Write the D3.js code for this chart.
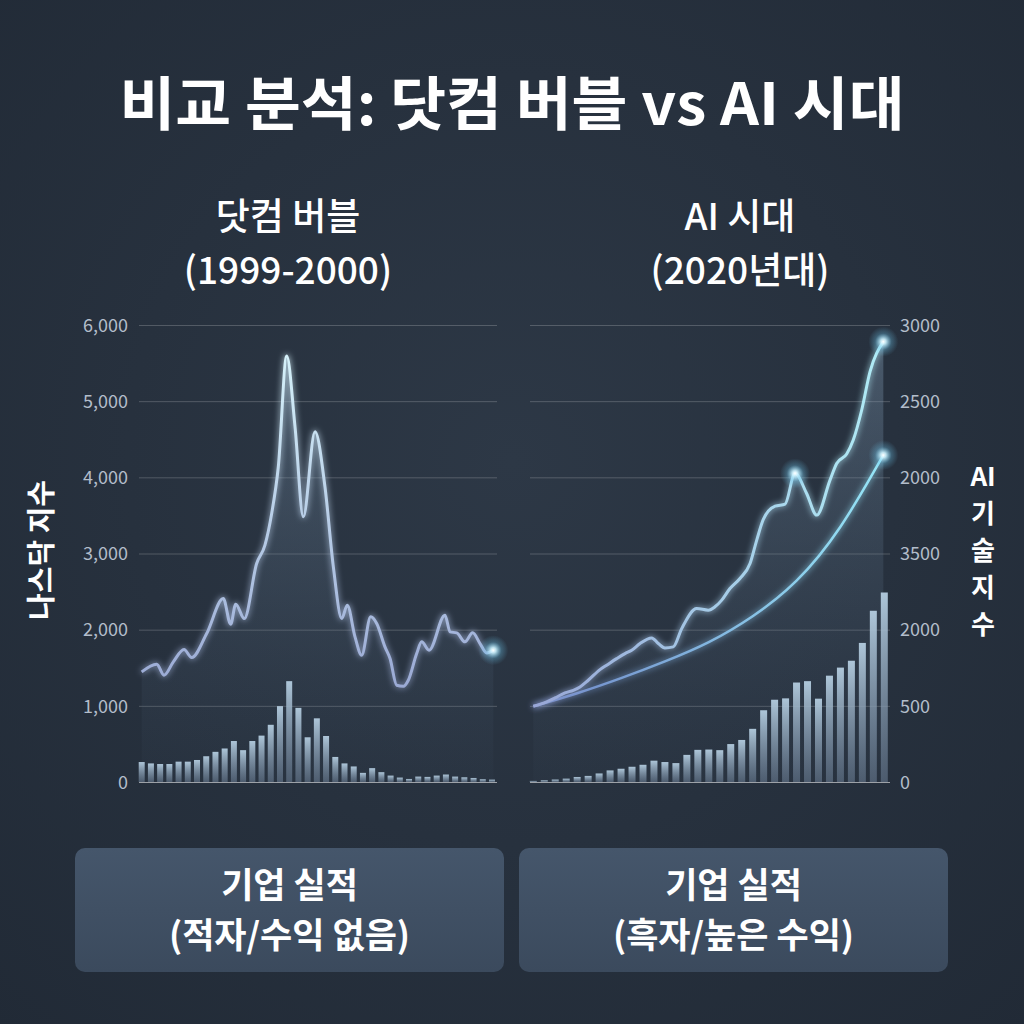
<!DOCTYPE html>
<html>
<head>
<meta charset="utf-8">
<script src="https://cdn.jsdelivr.net/npm/d3@7"></script>
<style>
  html, body { margin: 0; padding: 0; background: #27313e; }
  svg { display: block; }
  text { font-family: "Noto Sans CJK KR", "Noto Sans", sans-serif; }
</style>
</head>
<body>
<div id="chart_div"></div>
<script>
// ---- data ----

// dot-com: NASDAQ index line, t = position on the bar index scale
const dotcomLineT = [0, 1.63, 2.42, 3.43, 4.59, 5.42, 7.05, 8.85, 9.65, 10.2, 11.13, 12.47, 13.37, 14.1, 14.82, 15.73,
    16.63, 17.53, 18.8, 19.88, 20.79, 21.7, 22.3, 23.14, 23.86, 24.84, 25.49, 26.39, 26.94, 27.66, 28.38, 28.92,
    29.83, 30.37, 31.17, 32.9, 33.45, 34.17, 35.07, 35.9, 36.7, 37.42, 38.14];
const dotcomLineV = [1445, 1546, 1402, 1577, 1739, 1634, 1949, 2409, 2072, 2335, 2146, 2869, 3110, 3526, 4139, 5593,
    4665, 3482, 4599, 3876, 2825, 2146, 2321, 1905, 1664, 2168, 2081, 1774, 1621, 1270, 1257, 1336,
    1686, 1840, 1730, 2190, 1971, 1958, 1840, 1958, 1818, 1695, 1730];
// dot-com: bars
const dotcomBars = [262, 244, 236, 236, 267, 267, 289, 338, 396, 440, 538, 418, 538, 609, 751, 996, 1324, 973, 587, 836,
    604, 329, 244, 204, 120, 182, 129, 84, 58, 40, 71, 67, 84, 98, 71, 62, 53, 36, 31];
const dotcomTicks = [0, 1000, 2000, 3000, 4000, 5000, 6000];

// AI era: index line
const aiLineT = [0, 1.22, 1.98, 2.89, 3.65, 4.26, 5.01, 6.08, 6.69, 7.6, 8.36, 8.97, 9.73, 10.79, 11.4, 12.0, 12.76,
    13.53, 14.9, 15.95, 16.56, 17.18, 17.93, 18.84, 19.76, 20.37, 20.97, 22.04, 22.95, 23.86, 24.92, 25.84,
    27.05, 27.66, 28.57, 29.17, 29.94, 30.7, 31.91];
const aiLineV = [497, 526, 552, 585, 602, 624, 668, 738, 767, 810, 843, 865, 909, 946, 909, 880, 887,
    1007, 1139, 1128, 1150, 1194, 1270, 1336, 1434, 1588, 1724, 1811, 1824, 2026, 1894, 1752,
    1982, 2091, 2153, 2245, 2442, 2694, 2891];
// AI era: smooth trend curve
const aiTrendT = [0, 4, 8, 12, 16, 20, 24, 28, 31.91];
const aiTrendV = [497, 580, 680, 790, 910, 1080, 1300, 1650, 2146];
// AI era: bars
const aiBars = [7, 11, 16, 22, 33, 40, 56, 76, 87, 100, 113, 140, 131, 124, 178, 211, 213, 209, 249, 276, 349, 471,
    540, 549, 653, 662, 547, 698, 751, 796, 913, 1124, 1244];
const aiTicks = [0, 500, 1000, 1500, 2000, 2500, 3000];
const aiTickLabels = ["0", "500", "2000", "3500", "2000", "2500", "3000"];

const width = 1024;
const height = 1024;

const svg = d3.select("#chart_div")
    .append("svg")
    .attr("width", width)
    .attr("height", height);

// ---- defs ----
const defs = svg.append("defs");

const bg = defs.append("radialGradient").attr("id", "bg").attr("cx", "50%").attr("cy", "45%").attr("r", "75%");
bg.append("stop").attr("offset", "0%").attr("stop-color", "#2d3846");
bg.append("stop").attr("offset", "100%").attr("stop-color", "#212a36");

const barGrad = defs.append("linearGradient").attr("id", "barGrad").attr("x1", 0).attr("y1", 0).attr("x2", 0).attr("y2", 1);
barGrad.append("stop").attr("offset", "0%").attr("stop-color", "#b4cde0").attr("stop-opacity", 0.95);
barGrad.append("stop").attr("offset", "100%").attr("stop-color", "#6c7f96").attr("stop-opacity", 0.55);

const areaGrad = defs.append("linearGradient").attr("id", "areaGrad").attr("x1", 0).attr("y1", 0).attr("x2", 0).attr("y2", 1);
areaGrad.append("stop").attr("offset", "0%").attr("stop-color", "#8aa6c0").attr("stop-opacity", 0.35);
areaGrad.append("stop").attr("offset", "100%").attr("stop-color", "#4a5d73").attr("stop-opacity", 0.05);

const leftLineGrad = defs.append("linearGradient").attr("id", "leftLineGrad")
    .attr("gradientUnits", "userSpaceOnUse").attr("x1", 0).attr("y1", 350).attr("x2", 0).attr("y2", 690);
leftLineGrad.append("stop").attr("offset", "0%").attr("stop-color", "#d6f2fa");
leftLineGrad.append("stop").attr("offset", "100%").attr("stop-color", "#9aa9d4");

const aiLineGrad = defs.append("linearGradient").attr("id", "aiLineGrad")
    .attr("gradientUnits", "userSpaceOnUse").attr("x1", 530).attr("y1", 0).attr("x2", 885).attr("y2", 0);
aiLineGrad.append("stop").attr("offset", "0%").attr("stop-color", "#99a6d6");
aiLineGrad.append("stop").attr("offset", "100%").attr("stop-color", "#b0ecf6");

const trendGrad = defs.append("linearGradient").attr("id", "trendGrad")
    .attr("gradientUnits", "userSpaceOnUse").attr("x1", 530).attr("y1", 0).attr("x2", 885).attr("y2", 0);
trendGrad.append("stop").attr("offset", "0%").attr("stop-color", "#6f84c6");
trendGrad.append("stop").attr("offset", "100%").attr("stop-color", "#96e6f7");

const boxGrad = defs.append("linearGradient").attr("id", "boxGrad").attr("x1", 0).attr("y1", 0).attr("x2", 0).attr("y2", 1);
boxGrad.append("stop").attr("offset", "0%").attr("stop-color", "#45566b");
boxGrad.append("stop").attr("offset", "100%").attr("stop-color", "#3b4a5d");

const glow = defs.append("filter").attr("id", "glow").attr("x", "-20%").attr("y", "-20%").attr("width", "140%").attr("height", "140%");
glow.append("feGaussianBlur").attr("in", "SourceGraphic").attr("stdDeviation", 3).attr("result", "b");
const merge = glow.append("feMerge");
merge.append("feMergeNode").attr("in", "b");
merge.append("feMergeNode").attr("in", "SourceGraphic");

const dotGlow = defs.append("radialGradient").attr("id", "dotGlow");
dotGlow.append("stop").attr("offset", "0%").attr("stop-color", "#ffffff").attr("stop-opacity", 1);
dotGlow.append("stop").attr("offset", "18%").attr("stop-color", "#cdf3ff").attr("stop-opacity", 0.9);
dotGlow.append("stop").attr("offset", "55%").attr("stop-color", "#6fc8ee").attr("stop-opacity", 0.3);
dotGlow.append("stop").attr("offset", "100%").attr("stop-color", "#6fc8ee").attr("stop-opacity", 0);

svg.append("rect").attr("width", width).attr("height", height).attr("fill", "url(#bg)");

// ---- header ----
svg.append("text")
    .attr("x", 512).attr("y", 125)
    .attr("text-anchor", "middle")
    .attr("fill", "#ffffff")
    .attr("font-size", 58)
    .attr("font-weight", 700)
    .attr("textLength", 785)
    .attr("lengthAdjust", "spacingAndGlyphs")
    .text("비교 분석: 닷컴 버블 vs AI 시대");

const subTitles = [
    { x: 288, lines: ["닷컴 버블", "(1999-2000)"] },
    { x: 740, lines: ["AI 시대", "(2020년대)"] },
];
subTitles.forEach(s => {
    s.lines.forEach((t, i) => {
        svg.append("text")
            .attr("x", s.x).attr("y", 230 + i * 54)
            .attr("text-anchor", "middle")
            .attr("fill", "#ffffff")
            .attr("font-size", 37)
            .attr("font-weight", 500)
            .text(t);
    });
});

// ---- scales ----
const yTop = 325, yBase = 782;

const xL = d3.scaleLinear().domain([0, dotcomBars.length - 1]).range([141.7, 492]);
const yL = d3.scaleLinear().domain([0, 6000]).range([yBase, yTop]);

const xR = d3.scaleLinear().domain([0, aiBars.length - 1]).range([533.3, 884.3]);
const yR = d3.scaleLinear().domain([0, 3000]).range([yBase, yTop]);

// ---- grid + axes ----
const leftAxis = svg.append("g")
    .attr("transform", "translate(139,0)")
    .call(d3.axisRight(yL).tickValues(dotcomTicks).tickSize(358).tickFormat(""));
leftAxis.select(".domain").remove();
leftAxis.selectAll("line").attr("stroke", "#ffffff").attr("stroke-opacity", d => d === 0 ? 0.55 : 0.2);

svg.append("g")
    .attr("transform", "translate(131,0)")
    .call(d3.axisLeft(yL).tickValues(dotcomTicks).tickSize(0).tickFormat(d3.format(",")))
    .call(g => g.select(".domain").remove())
    .selectAll("text")
    .attr("fill", "#b3bdca")
    .attr("font-size", 18)
    .attr("dy", "0.35em");

const rightAxis = svg.append("g")
    .attr("transform", "translate(530,0)")
    .call(d3.axisRight(yR).tickValues(aiTicks).tickSize(360).tickFormat(""));
rightAxis.select(".domain").remove();
rightAxis.selectAll("line").attr("stroke", "#ffffff").attr("stroke-opacity", d => d === 0 ? 0.55 : 0.2);

svg.append("g")
    .attr("transform", "translate(897,0)")
    .call(d3.axisRight(yR).tickValues(aiTicks).tickSize(0).tickFormat((d, i) => aiTickLabels[i]))
    .call(g => g.select(".domain").remove())
    .selectAll("text")
    .attr("fill", "#b3bdca")
    .attr("font-size", 18)
    .attr("dy", "0.35em");

// axis titles
svg.append("text")
    .attr("transform", "translate(52,550) rotate(-90)")
    .attr("text-anchor", "middle")
    .attr("fill", "#ffffff")
    .attr("font-size", 29)
    .attr("font-weight", 700)
    .text("나스닥 지수");

// right title stacked one glyph per line
const rightTitle = ["AI", "기", "술", "지", "수"];
svg.append("g").selectAll("text")
    .data(rightTitle)
    .enter()
    .append("text")
    .attr("x", 983)
    .attr("y", (d, i) => 486 + i * 37)
    .attr("text-anchor", "middle")
    .attr("fill", "#ffffff")
    .attr("font-size", 26)
    .attr("font-weight", 700)
    .text(d => d);

// ---- dot-com panel ----
const leftPts = dotcomLineT.map((t, i) => [t, dotcomLineV[i]]);

svg.append("path")
    .datum(leftPts)
    .attr("fill", "url(#areaGrad)")
    .attr("d", d3.area().curve(d3.curveMonotoneX).x(d => xL(d[0])).y0(yBase).y1(d => yL(d[1])));

svg.append("g").selectAll("rect")
    .data(dotcomBars)
    .enter()
    .append("rect")
    .attr("x", (d, i) => xL(i) - 3)
    .attr("y", d => yL(d))
    .attr("width", 6)
    .attr("height", d => yBase - yL(d))
    .attr("fill", "url(#barGrad)");

svg.append("path")
    .datum(leftPts)
    .attr("fill", "none")
    .attr("stroke", "url(#leftLineGrad)")
    .attr("stroke-width", 3)
    .attr("stroke-linejoin", "round")
    .attr("filter", "url(#glow)")
    .attr("d", d3.line().curve(d3.curveMonotoneX).x(d => xL(d[0])).y(d => yL(d[1])));

// ---- AI panel ----
const aiPts = aiLineT.map((t, i) => [t, aiLineV[i]]);
const trendPts = aiTrendT.map((t, i) => [t, aiTrendV[i]]);

svg.append("path")
    .datum(aiPts)
    .attr("fill", "url(#areaGrad)")
    .attr("d", d3.area().curve(d3.curveMonotoneX).x(d => xR(d[0])).y0(yBase).y1(d => yR(d[1])));

svg.append("g").selectAll("rect")
    .data(aiBars)
    .enter()
    .append("rect")
    .attr("x", (d, i) => xR(i) - 3.5)
    .attr("y", d => yR(d))
    .attr("width", 7)
    .attr("height", d => yBase - yR(d))
    .attr("fill", "url(#barGrad)");

svg.append("path")
    .datum(trendPts)
    .attr("fill", "none")
    .attr("stroke", "url(#trendGrad)")
    .attr("stroke-width", 2.5)
    .attr("filter", "url(#glow)")
    .attr("d", d3.line().curve(d3.curveBasis).x(d => xR(d[0])).y(d => yR(d[1])));

svg.append("path")
    .datum(aiPts)
    .attr("fill", "none")
    .attr("stroke", "url(#aiLineGrad)")
    .attr("stroke-width", 3)
    .attr("stroke-linejoin", "round")
    .attr("filter", "url(#glow)")
    .attr("d", d3.line().curve(d3.curveMonotoneX).x(d => xR(d[0])).y(d => yR(d[1])));

// glow dots
const glowDots = [
    [xL(dotcomLineT[dotcomLineT.length - 1]), yL(dotcomLineV[dotcomLineV.length - 1])],
    [xR(aiLineT[aiLineT.length - 1]), yR(aiLineV[aiLineV.length - 1])],
    [xR(aiTrendT[aiTrendT.length - 1]), yR(aiTrendV[aiTrendV.length - 1])],
    [xR(aiLineT[29]), yR(aiLineV[29])],
];
svg.append("g").selectAll("circle")
    .data(glowDots)
    .enter()
    .append("circle")
    .attr("cx", d => d[0])
    .attr("cy", d => d[1])
    .attr("r", 15)
    .attr("fill", "url(#dotGlow)");

// ---- bottom boxes ----
const boxes = [
    { x: 75, lines: ["기업 실적", "(적자/수익 없음)"] },
    { x: 519, lines: ["기업 실적", "(흑자/높은 수익)"] },
];
boxes.forEach(b => {
    svg.append("rect")
        .attr("x", b.x).attr("y", 848)
        .attr("width", 429).attr("height", 124)
        .attr("rx", 10)
        .attr("fill", "url(#boxGrad)");
    b.lines.forEach((t, i) => {
        svg.append("text")
            .attr("x", b.x + 214.5).attr("y", 898 + i * 50)
            .attr("text-anchor", "middle")
            .attr("fill", "#ffffff")
            .attr("font-size", 35)
            .attr("font-weight", 700)
            .text(t);
    });
});
</script>
</body>
</html>
